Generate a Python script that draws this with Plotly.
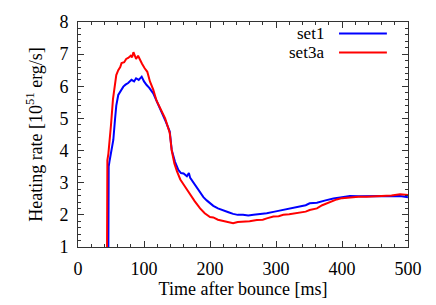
import plotly.graph_objects as go

# set1 (blue)
set1_t = [46, 46.5, 48, 50, 53.5, 56, 58, 61, 64, 68.7, 72, 76, 81, 85, 88, 92, 96.5, 100, 104, 108,
          114, 120, 127, 133, 139, 142, 147, 152, 156, 160, 165, 168, 170, 177, 185, 190, 195, 200,
          205, 212, 220, 228, 235, 242, 250, 258, 266, 275, 286, 298, 311, 322, 336, 345, 351, 362,
          375, 387, 400, 412, 425, 437, 450, 462, 475, 488, 500]
set1_y = [1.0, 3.5, 3.7, 3.9, 4.33, 4.95, 5.4, 5.73, 5.85, 5.99, 6.05, 6.1, 6.2, 6.15, 6.25, 6.2, 6.3,
          6.15, 6.04, 5.95, 5.78, 5.5, 5.21, 4.9, 4.59, 4.02, 3.65, 3.4, 3.3, 3.29, 3.2, 3.3, 3.15,
          2.93, 2.67, 2.55, 2.45, 2.35, 2.28, 2.2, 2.15, 2.08, 2.03, 2.0, 2.0, 1.98, 2.0, 2.02, 2.05,
          2.1, 2.15, 2.2, 2.26, 2.3, 2.36, 2.38, 2.45, 2.51, 2.55, 2.59, 2.58, 2.59, 2.6, 2.59, 2.58,
          2.59, 2.55]

# set3a (red)
set3a_t = [44, 44.5, 46, 48, 50, 53, 56, 58, 61, 64, 66, 70, 73, 76, 80, 82, 84, 86, 88, 91, 94, 97,
           101, 105, 109, 114, 119, 125, 132, 136, 139, 142, 146, 150, 155, 162, 170, 177, 185, 192,
           200, 205, 212, 218, 225, 230, 235, 242, 250, 260, 271, 280, 286, 296, 304, 311, 320, 336,
           345, 351, 362, 370, 377, 385, 392, 400, 412, 425, 437, 450, 462, 475, 488, 495, 500]
set3a_y = [1.0, 3.7, 3.9, 4.5, 4.8, 5.6, 6.1, 6.35, 6.5, 6.6, 6.72, 6.75, 6.85, 6.88, 6.95, 6.9, 7.06,
           6.95, 6.85, 6.95, 6.8, 6.7, 6.56, 6.45, 6.15, 5.9, 5.55, 5.3, 5.0, 4.75, 4.55, 4.0, 3.6,
           3.35, 3.1, 2.88, 2.62, 2.42, 2.2, 2.05, 1.93, 1.92, 1.85, 1.82, 1.78, 1.75, 1.74, 1.78,
           1.79, 1.8, 1.84, 1.85, 1.89, 1.95, 1.96, 2.0, 2.02, 2.07, 2.1, 2.15, 2.2, 2.3, 2.36, 2.43,
           2.48, 2.52, 2.55, 2.56, 2.56, 2.57, 2.59, 2.6, 2.64, 2.62, 2.62]

x_ticks = [0, 100, 200, 300, 400, 500]
y_ticks = [1, 2, 3, 4, 5, 6, 7, 8]
legend_names = ["set1", "set3a"]
colors = ["#0000ff", "#ff0000"]

FONT = "Liberation Serif, Times New Roman, serif"
FS = 18

fig = go.Figure()
fig.add_trace(go.Scatter(x=set1_t, y=set1_y, mode="lines", name=legend_names[0],
                         line=dict(color=colors[0], width=2), showlegend=False))
fig.add_trace(go.Scatter(x=set3a_t, y=set3a_y, mode="lines", name=legend_names[1],
                         line=dict(color=colors[1], width=2), showlegend=False))

axis_common = dict(
    showgrid=False, zeroline=False, showline=True, linecolor="#333333", linewidth=1,
    mirror="allticks", ticks="inside", ticklen=6, tickcolor="#333333", automargin=False,
    tickfont=dict(family=FONT, size=FS, color="black"),
)

fig.update_xaxes(range=[0, 500], tickvals=x_ticks, ticktext=[str(v) for v in x_ticks],
                 minor=dict(dtick=20, ticks="inside", ticklen=3, tickcolor="#333333"),
                 ticklabelstandoff=5,
                 title=dict(text="Time after bounce [ms]", font=dict(family=FONT, size=FS, color="black"),
                            standoff=4),
                 **axis_common)
fig.update_yaxes(range=[1, 8], tickvals=y_ticks, ticktext=[str(v) for v in y_ticks],
                 minor=dict(dtick=0.2, ticks="inside", ticklen=3, tickcolor="#333333"),
                 ticklabelstandoff=5,
                 title=dict(text="Heating rate [10<sup>51</sup> erg/s]",
                            font=dict(family=FONT, size=FS, color="black"), standoff=12),
                 **axis_common)

# legend built from names, placed at top right inside plot
leg_y = [0.949, 0.864]
for name, c, yy in zip(legend_names, colors, leg_y):
    fig.add_annotation(x=0.752, y=yy, xref="paper", yref="paper", text=name, showarrow=False,
                       xanchor="right", yanchor="middle",
                       font=dict(family=FONT, size=17, color="black"))
    fig.add_shape(type="line", xref="paper", yref="paper", x0=0.791, x1=0.936, y0=yy, y1=yy,
                  line=dict(color=c, width=2))

fig.update_layout(
    width=436, height=305,
    margin=dict(l=78, r=28, t=22, b=58),
    paper_bgcolor="white", plot_bgcolor="white",
    font=dict(family=FONT, size=FS, color="black"),
)

fig.write_html("out.html", config={"displayModeBar": False},
               post_script="document.body.style.margin='0';document.body.style.overflow='hidden';")
